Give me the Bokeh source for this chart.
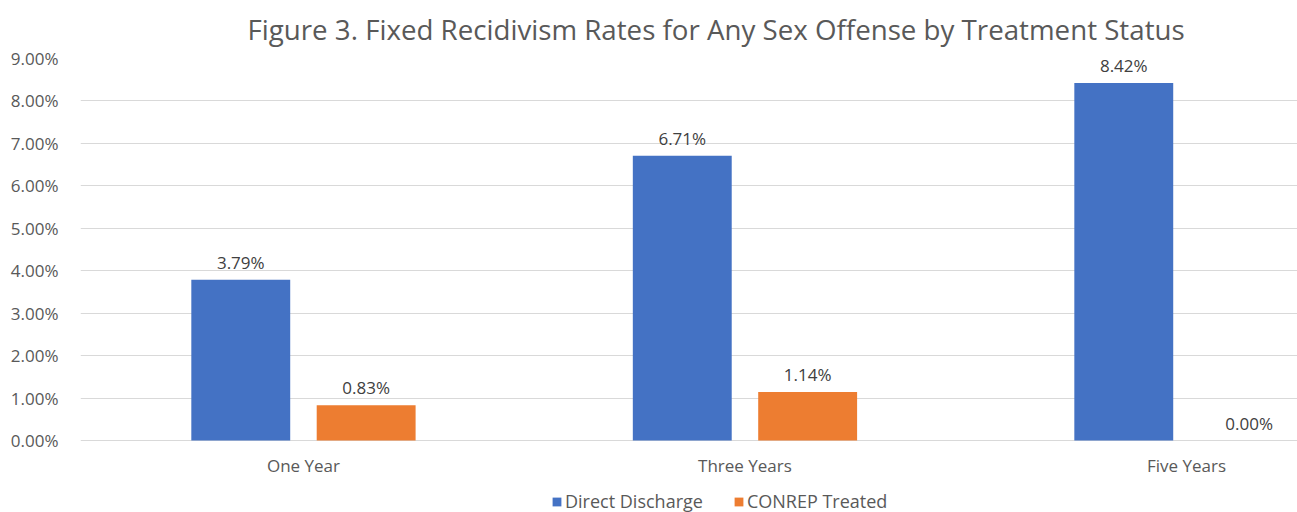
from bokeh.plotting import figure
from bokeh.models import ColumnDataSource, FixedTicker, Range1d, Legend, LegendItem, Title
from bokeh.transform import dodge
from bokeh.core.properties import value
from bokeh.embed import file_html
from bokeh.resources import INLINE

categories = ["One Year", "Three Years", "Five Years"]
direct_discharge = [3.79, 6.71, 8.42]
conrep_treated = [0.83, 1.14, 0.00]
y_ticks = [0, 1, 2, 3, 4, 5, 6, 7, 8, 9]

FONT = "Open Sans"
pos = [i + 0.5 for i in range(len(categories))]
src = ColumnDataSource(dict(
    x=pos,
    zero=[0] * len(categories),
    cat=categories,
    dd=direct_discharge,
    ct=conrep_treated,
    dd_lab=["%.2f%%" % v for v in direct_discharge],
    ct_lab=["%.2f%%" % v for v in conrep_treated],
))

# frame extends below the zero line to hold category labels and legend
p = figure(frame_width=1217, frame_height=454,
           x_range=Range1d(-0.005, 2.7515), y_range=Range1d(-1.696, 9),
           output_backend="svg", toolbar_location=None,
           min_border_left=80, min_border_right=0, min_border_top=58, min_border_bottom=0)
p.title = None
t = Title(text="Figure 3. Fixed Recidivism Rates for Any Sex Offense by Treatment Status",
          align="left", vertical_align="top", text_font=FONT, text_font_size="27.7px",
          text_color="#595959", text_font_style="normal", standoff=18, offset=167)
p.add_layout(t, "above")

bw = 0.224
off = 0.142
r1 = p.vbar(x=dodge("x", -off), top="dd", width=bw, source=src, color="#4472C4", line_color=None)
r2 = p.vbar(x=dodge("x", off), top="ct", width=bw, source=src, color="#ED7D31", line_color=None)

for col, lab, o in (("dd", "dd_lab", -off), ("ct", "ct_lab", off)):
    p.text(x=dodge("x", o), y=col, text=lab, source=src, text_align="center",
           text_baseline="bottom", y_offset=-6, text_font=value(FONT),
           text_font_size="17px", text_color="#404040")

# category labels under the zero line
p.text(x="x", y="zero", text="cat", source=src, text_align="center",
       text_baseline="middle", y_offset=25, text_font=value(FONT),
       text_font_size="17px", text_color="#595959")

p.xaxis.visible = False
p.yaxis.ticker = FixedTicker(ticks=y_ticks)
p.yaxis.major_label_overrides = {v: "%.2f%%" % v for v in y_ticks}
ax = p.yaxis[0]
ax.major_tick_line_color = None
ax.minor_tick_line_color = None
ax.major_label_text_font = FONT
ax.major_label_text_font_size = "17px"
ax.major_label_text_color = "#595959"
ax.axis_line_color = None
ax.major_label_standoff = 16
p.xgrid.grid_line_color = None
p.ygrid.grid_line_color = "#d9d9d9"
p.ygrid.ticker = FixedTicker(ticks=y_ticks)
p.outline_line_color = None

legend = Legend(items=[LegendItem(label="Direct Discharge", renderers=[r1]),
                       LegendItem(label="CONREP Treated", renderers=[r2])],
                orientation="horizontal", location=(471, -1),
                label_text_font=FONT, label_text_font_size="18px", label_text_color="#595959",
                glyph_width=11, glyph_height=11, label_standoff=3, spacing=30,
                border_line_color=None, background_fill_alpha=0, padding=0, margin=0)
p.add_layout(legend, "center")

open("out.html", "w").write(file_html(p, INLINE))
